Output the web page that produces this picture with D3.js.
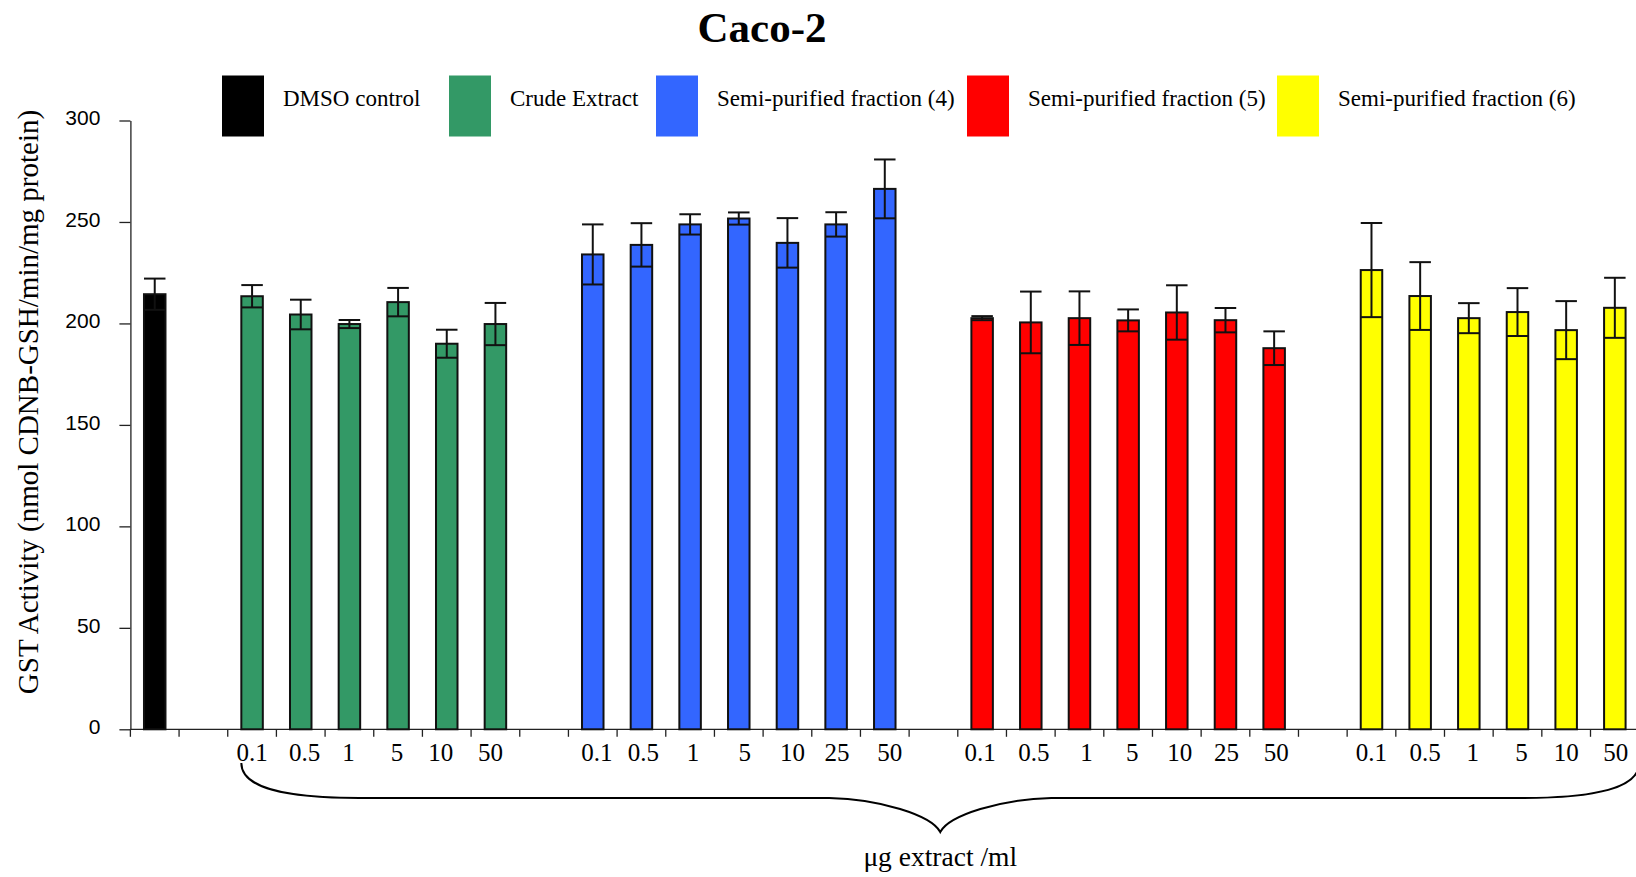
<!DOCTYPE html>
<html>
<head>
<meta charset="utf-8">
<script src="https://cdn.jsdelivr.net/npm/d3@7"></script>
<style>
  html, body { margin: 0; padding: 0; background: #fff; }
  svg { display: block; }
</style>
</head>
<body>
<svg id="chart" width="1636" height="877"></svg>
<script>
// GST activity in Caco-2 cells: DMSO control vs. crude extract and semi-purified fractions
const groupNames = ["DMSO control", "Crude Extract", "Semi-purified fraction (4)", "Semi-purified fraction (5)", "Semi-purified fraction (6)"];
const groupColors = ["#000000", "#339966", "#3366ff", "#ff0000", "#ffff00"];

const dmsoMean = [214.4];
const dmsoSD = [7.7];

const crudeDoses = ["0.1", "0.5", "1", "5", "10", "50"];
const crudeMean = [213.4, 204.4, 199.7, 210.5, 190.0, 199.7];
const crudeSD = [5.5, 7.3, 2.0, 7.0, 6.9, 10.4];

const frac4Doses = ["0.1", "0.5", "1", "5", "10", "25", "50"];
const frac4Mean = [234.0, 238.7, 248.8, 251.7, 239.7, 248.8, 266.3];
const frac4SD = [14.8, 10.7, 5.0, 3.0, 12.2, 6.0, 14.5];

const frac5Doses = ["0.1", "0.5", "1", "5", "10", "25", "50"];
const frac5Mean = [202.6, 200.5, 202.6, 201.5, 205.4, 201.6, 187.8];
const frac5SD = [1.0, 15.2, 13.2, 5.4, 13.4, 6.0, 8.3];

const frac6Doses = ["0.1", "0.5", "1", "5", "10", "50"];
const frac6Mean = [226.3, 213.5, 202.6, 205.6, 196.7, 207.7];
const frac6SD = [23.2, 16.7, 7.4, 11.8, 14.3, 14.8];

const yTicks = [0, 50, 100, 150, 200, 250, 300];

// hand-set horizontal nudges of the dose labels (px), one list per extract group
const labelNudge = [
  [0, 4, -1, -1, -6, -5],
  [4, 2, 3, 6, 5, 1, 5],
  [-2, 3, 7, 4, 3, 1, 2],
  [0, 5, 4, 4, 0, 1]
];

// ---- build the category slots (an empty slot separates each group) ----
const slots = [];
slots.push({ id: "dmso", label: "", group: 0, mean: dmsoMean[0], sd: dmsoSD[0], nudge: 0 });
const extractSets = [
  [crudeDoses, crudeMean, crudeSD],
  [frac4Doses, frac4Mean, frac4SD],
  [frac5Doses, frac5Mean, frac5SD],
  [frac6Doses, frac6Mean, frac6SD]
];
extractSets.forEach(([doses, means, sds], gi) => {
  slots.push({ id: "gap" + gi, label: "", group: -1, nudge: 0 });
  doses.forEach((d, i) => slots.push({
    id: `g${gi + 1}_${i}`, label: d, group: gi + 1,
    mean: means[i], sd: sds[i], nudge: labelNudge[gi][i]
  }));
});

// ---- layout ----
const svg = d3.select("#chart");
const bandW = 48.67;
const x0 = 130.4;
const x = d3.scaleBand().domain(slots.map(d => d.id)).range([x0, x0 + slots.length * bandW]).padding(0);
const y = d3.scaleLinear().domain([0, 300]).range([729.3, 120.5]);
const barW = 21.5;
const serif = "'Liberation Serif', 'Times New Roman', serif";
const sans = "'Liberation Sans', Arial, sans-serif";
const axisColor = "#222";

// title
svg.append("text")
  .attr("x", 762).attr("y", 41.5)
  .attr("text-anchor", "middle")
  .style("font-family", serif).style("font-weight", "bold").style("font-size", "43px")
  .text("Caco-2");

// legend
const legendX = [222, 449, 656, 967, 1277];
const legend = svg.append("g");
groupNames.forEach((name, i) => {
  legend.append("rect")
    .attr("x", legendX[i]).attr("y", 75.5)
    .attr("width", 42).attr("height", 61)
    .attr("fill", groupColors[i]);
  legend.append("text")
    .attr("x", legendX[i] + 61).attr("y", 105.5)
    .style("font-family", serif).style("font-size", "23px")
    .text(name);
});

// y axis
const yAxis = svg.append("g")
  .attr("transform", `translate(${x0},0)`)
  .call(d3.axisLeft(y).tickValues(yTicks).tickSize(11).tickSizeOuter(0).tickPadding(19));
yAxis.select(".domain").attr("stroke", axisColor).attr("stroke-width", 1.3);
yAxis.selectAll(".tick line").attr("stroke", axisColor).attr("stroke-width", 1.3);
yAxis.selectAll(".tick text")
  .attr("dy", "0.2em")
  .style("font-family", sans).style("font-size", "21px").attr("fill", "#000");

// y axis title
svg.append("text")
  .attr("transform", "translate(38,402) rotate(-90)")
  .attr("text-anchor", "middle")
  .style("font-family", serif).style("font-size", "29px")
  .text("GST Activity (nmol CDNB-GSH/min/mg protein)");

// x axis: baseline, boundary ticks and dose labels
const xEnd = x.range()[1];
svg.append("line")
  .attr("x1", x0).attr("x2", xEnd)
  .attr("y1", y(0)).attr("y2", y(0))
  .attr("stroke", axisColor).attr("stroke-width", 1.3);
const boundaries = slots.map(d => x(d.id)).concat([xEnd]);
svg.append("g").selectAll("line")
  .data(boundaries)
  .join("line")
  .attr("x1", d => d).attr("x2", d => d)
  .attr("y1", y(0)).attr("y2", y(0) + 7.5)
  .attr("stroke", axisColor).attr("stroke-width", 1.3);

const xAxis = svg.append("g")
  .attr("transform", `translate(0,${y(0)})`)
  .call(d3.axisBottom(x).tickSize(0).tickPadding(0)
    .tickFormat(id => slots.find(s => s.id === id).label));
xAxis.select(".domain").remove();
xAxis.selectAll(".tick text")
  .attr("dy", null).attr("y", 31.5)
  .attr("x", id => slots.find(s => s.id === id).nudge)
  .style("font-family", serif).style("font-size", "25px").attr("fill", "#000");

// bars
const data = slots.filter(d => d.group >= 0);
svg.append("g").selectAll("rect")
  .data(data)
  .join("rect")
  .attr("x", d => x(d.id) + (bandW - barW) / 2)
  .attr("y", d => y(d.mean))
  .attr("width", barW)
  .attr("height", d => y(0) - y(d.mean))
  .attr("fill", d => groupColors[d.group])
  .attr("stroke", "#111")
  .attr("stroke-width", 2);

// error bars (mean ± SD)
const err = svg.append("g").attr("stroke", "#111").attr("stroke-width", 2).attr("fill", "none");
data.forEach(d => {
  const cx = x(d.id) + bandW / 2;
  const half = barW / 2;
  const yTop = y(d.mean + d.sd), yBot = y(d.mean - d.sd);
  err.append("line").attr("x1", cx).attr("x2", cx).attr("y1", yTop).attr("y2", yBot);
  err.append("line").attr("x1", cx - half).attr("x2", cx + half).attr("y1", yTop).attr("y2", yTop);
  err.append("line").attr("x1", cx - half).attr("x2", cx + half).attr("y1", yBot).attr("y2", yBot);
});

// curly brace grouping all extract doses
const bL = x("g1_0") + (bandW - barW) / 2;
const bR = xEnd;
const bM = (bL + bR) / 2;
const yA = 763, yH = 798, yTip = 832;
const p = d3.path();
p.moveTo(bL, yA);
p.bezierCurveTo(bL, yA + 25, bL + 43, yH, bL + 118, yH);
p.lineTo(bM - 111, yH);
p.bezierCurveTo(bM - 61, yH + 1, bM - 9, yH + 17, bM, yTip);
p.bezierCurveTo(bM + 9, yH + 17, bM + 61, yH + 1, bM + 111, yH);
p.lineTo(bR - 118, yH);
p.bezierCurveTo(bR - 43, yH, bR, yA + 25, bR, yA);
svg.append("path")
  .attr("d", p.toString())
  .attr("fill", "none").attr("stroke", "#000").attr("stroke-width", 2);

// x axis title
svg.append("text")
  .attr("x", bM).attr("y", 866)
  .attr("text-anchor", "middle")
  .style("font-family", serif).style("font-size", "27.5px")
  .text("μg extract /ml");
</script>
</body>
</html>
